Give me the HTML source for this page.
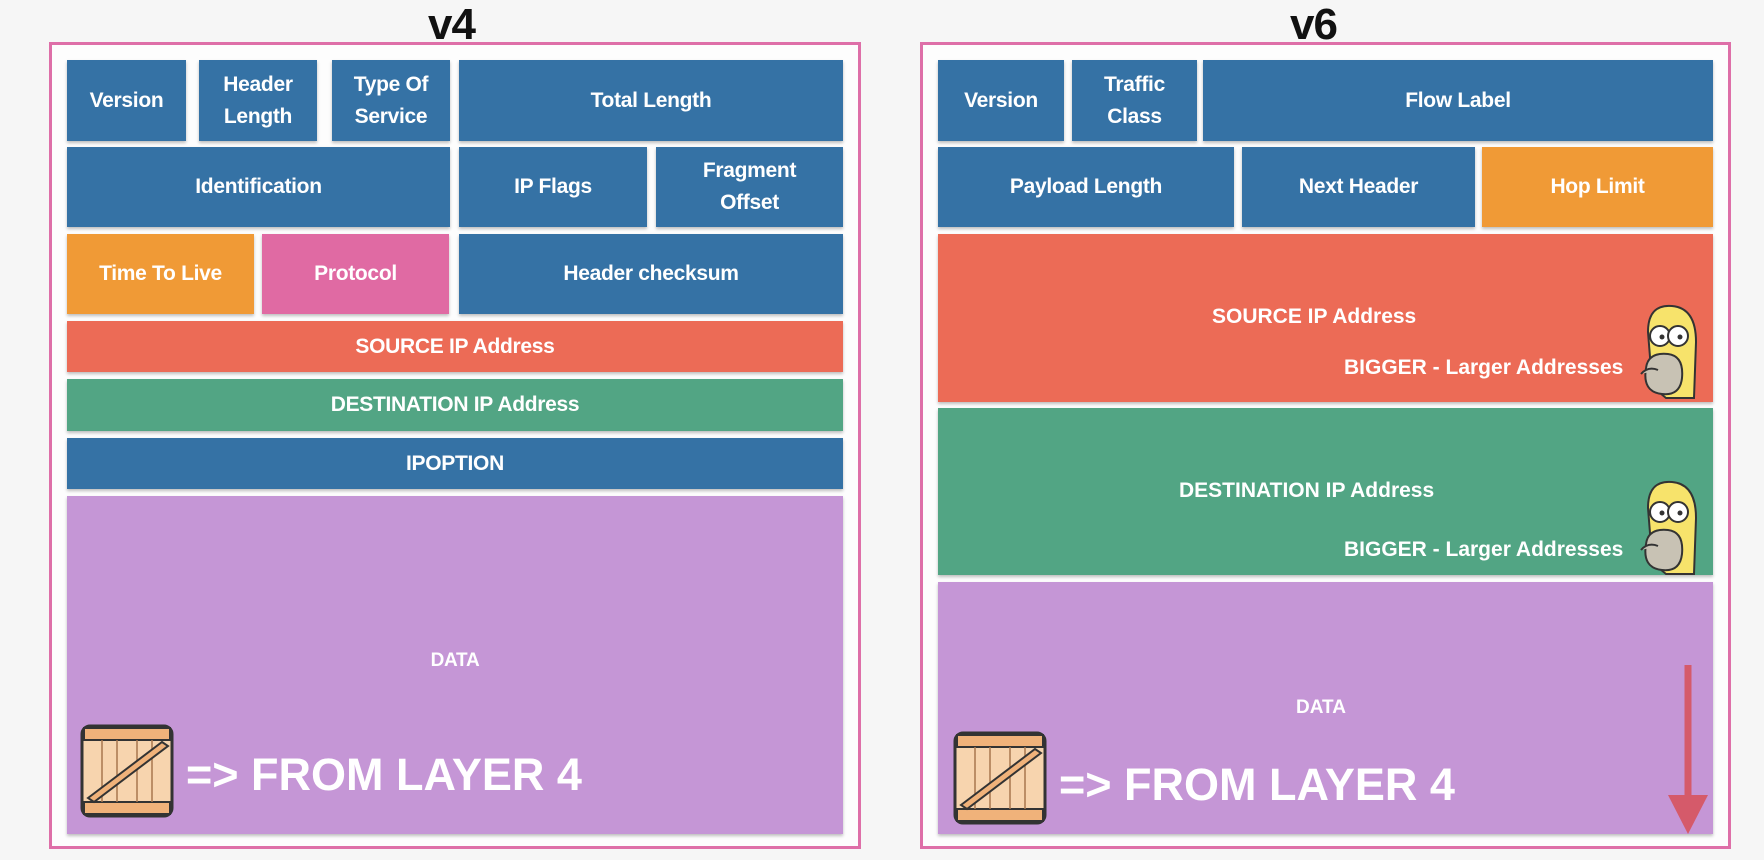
<!DOCTYPE html>
<html><head><meta charset="utf-8"><style>
body{margin:0;width:1764px;height:860px;background:#f6f6f6;position:relative;overflow:hidden;font-family:"Liberation Sans",sans-serif}
.f{position:absolute;border:3px solid #de6fa8;background:#fdfdfd;box-sizing:border-box}
.b{position:absolute;box-sizing:border-box;color:#fff;font-weight:bold;font-size:21px;display:flex;align-items:center;justify-content:center;text-align:center;line-height:32px;box-shadow:0 2px 3px rgba(0,0,0,.25);letter-spacing:-0.3px}
.bl{background:#3572a5}.or{background:#f09a36}.pk{background:#e06aa3}.rd{background:#ec6b56}.gr{background:#52a584}.pu{background:#c596d6}
.t{position:absolute;font-weight:bold;color:#111;font-size:44px;letter-spacing:-1px}
.w{position:absolute;color:#fff;font-weight:bold;white-space:nowrap}
</style></head><body>
<div class="t" style="left:428px;top:0px">v4</div>
<div class="t" style="left:1290px;top:0px">v6</div>
<div class="f" style="left:49px;top:42px;width:812px;height:807px"></div>
<div class="f" style="left:920px;top:42px;width:811px;height:807px"></div>

<div class="b bl" style="left:67px;top:60px;width:119px;height:81px">Version</div>
<div class="b bl" style="left:199px;top:60px;width:118px;height:81px">Header<br>Length</div>
<div class="b bl" style="left:332px;top:60px;width:118px;height:81px">Type Of<br>Service</div>
<div class="b bl" style="left:459px;top:60px;width:384px;height:81px">Total Length</div>
<div class="b bl" style="left:67px;top:147px;width:383px;height:80px">Identification</div>
<div class="b bl" style="left:459px;top:147px;width:188px;height:80px">IP Flags</div>
<div class="b bl" style="left:656px;top:147px;width:187px;height:80px">Fragment<br>Offset</div>
<div class="b or" style="left:67px;top:234px;width:187px;height:80px">Time To Live</div>
<div class="b pk" style="left:262px;top:234px;width:187px;height:80px">Protocol</div>
<div class="b bl" style="left:459px;top:234px;width:384px;height:80px">Header checksum</div>
<div class="b rd" style="left:67px;top:321px;width:776px;height:51px">SOURCE IP Address</div>
<div class="b gr" style="left:67px;top:379px;width:776px;height:52px">DESTINATION IP Address</div>
<div class="b bl" style="left:67px;top:438px;width:776px;height:51px">IPOPTION</div>
<div class="b pu" style="left:67px;top:496px;width:776px;height:338px;font-size:19px;padding-bottom:8px">DATA</div>

<div class="b bl" style="left:938px;top:60px;width:126px;height:81px">Version</div>
<div class="b bl" style="left:1072px;top:60px;width:125px;height:81px">Traffic<br>Class</div>
<div class="b bl" style="left:1203px;top:60px;width:510px;height:81px">Flow Label</div>
<div class="b bl" style="left:938px;top:147px;width:296px;height:80px">Payload Length</div>
<div class="b bl" style="left:1242px;top:147px;width:233px;height:80px">Next Header</div>
<div class="b or" style="left:1482px;top:147px;width:231px;height:80px">Hop Limit</div>
<div class="b rd" style="left:938px;top:234px;width:775px;height:168px"></div>
<div class="b gr" style="left:938px;top:408px;width:775px;height:167px"></div>
<div class="b pu" style="left:938px;top:582px;width:775px;height:252px"></div>
<div class="w" style="left:1212px;top:305px;font-size:21px">SOURCE IP Address</div>
<div class="w" style="left:1344px;top:356px;font-size:21px">BIGGER - Larger Addresses</div>
<div class="w" style="left:1179px;top:479px;font-size:21px">DESTINATION IP Address</div>
<div class="w" style="left:1344px;top:538px;font-size:21px">BIGGER - Larger Addresses</div>
<div class="w" style="left:1296px;top:697px;font-size:19px">DATA</div>

<div class="w" style="left:186px;top:749px;font-size:45px">=&gt; FROM LAYER 4</div>
<div class="w" style="left:1059px;top:759px;font-size:45px">=&gt; FROM LAYER 4</div>

<svg width="1764" height="860" style="position:absolute;left:0;top:0">
<defs>
<g id="crate">
<rect x="0" y="0" width="90" height="90" rx="8" fill="#f7d4ae" stroke="#333" stroke-width="3"/>
<rect x="2" y="2" width="86" height="12" fill="#f0b27a" stroke="#333" stroke-width="2"/>
<rect x="2" y="76" width="86" height="12" fill="#f0b27a" stroke="#333" stroke-width="2"/>
<path d="M20 14V76M35 14V76M55 14V76M70 14V76" stroke="#a8774f" stroke-width="1.5"/>
<path d="M6 72L80 16L86 20L12 76Z" fill="#f0b27a" stroke="#333" stroke-width="2"/>
</g>
<g id="homer">
<path d="M10 30 Q10 2 34 4 Q58 6 58 40 L56 96 L28 96 Q20 90 14 80 Z" fill="#f7e36b" stroke="#333" stroke-width="2"/>
<circle cx="22" cy="34" r="10" fill="#fff" stroke="#333" stroke-width="2"/><circle cx="40" cy="34" r="10" fill="#fff" stroke="#333" stroke-width="2"/>
<circle cx="24" cy="35" r="2.5" fill="#333"/><circle cx="42" cy="35" r="2.5" fill="#333"/>
<path d="M8 66 Q10 50 30 52 Q46 54 44 76 Q42 94 24 92 Q4 90 8 66Z" fill="#c8c2b4" stroke="#333" stroke-width="2"/>
<path d="M3 72 Q10 64 20 68" fill="#c8c2b4" stroke="#333" stroke-width="2"/>
</g>
</defs>
<use href="#crate" x="82" y="726"/>
<use href="#crate" x="955" y="733"/>
<use href="#homer" x="1638" y="302"/>
<use href="#homer" x="1638" y="478"/>
<line x1="1688" y1="665" x2="1688" y2="800" stroke="#d55a6a" stroke-width="7"/>
<polygon points="1668,795 1708,795 1688,834" fill="#d55a6a"/>
</svg>
</body></html>
